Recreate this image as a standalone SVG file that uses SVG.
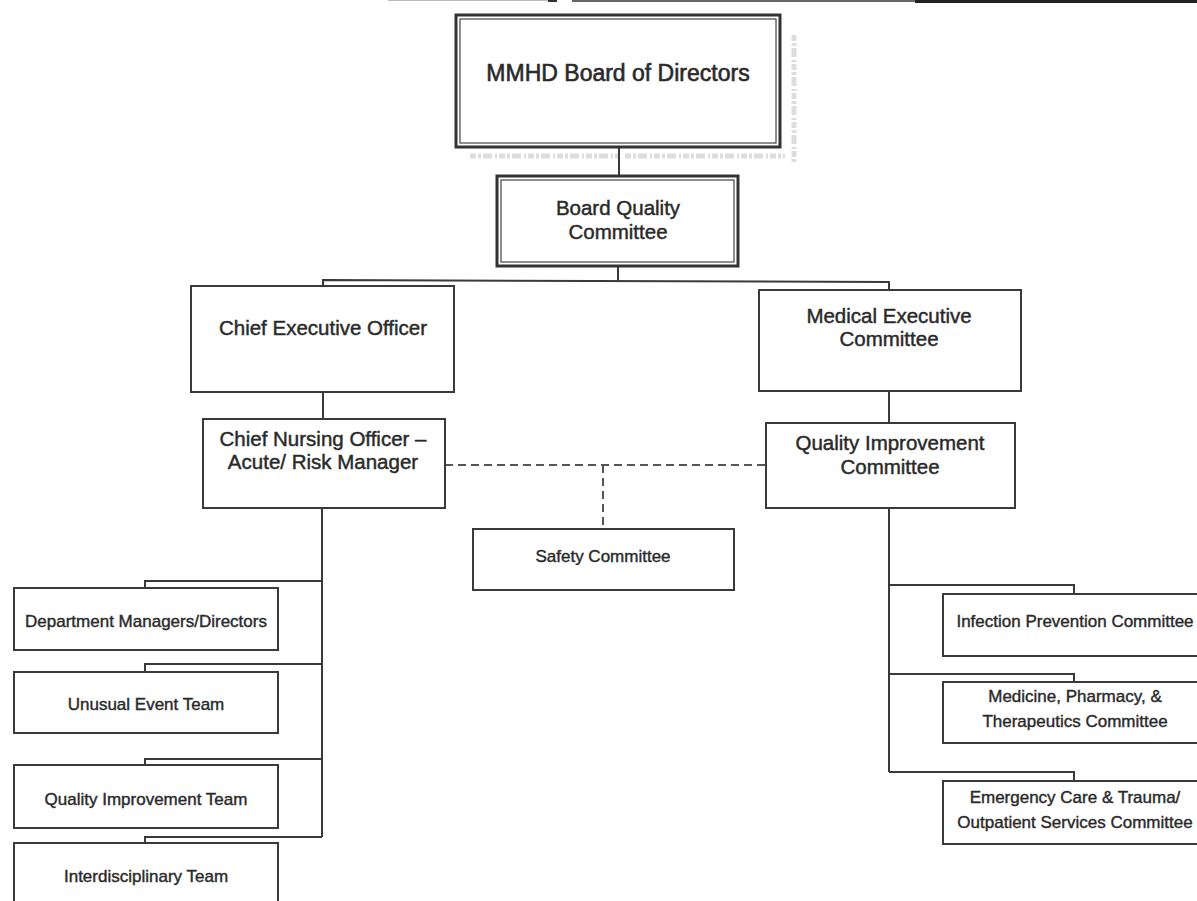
<svg xmlns="http://www.w3.org/2000/svg" width="1197" height="901" viewBox="0 0 1197 901">
<style>
  .box { fill: #ffffff; stroke: #3a3a3a; stroke-width: 2; }
  .outer { fill: #ffffff; stroke: #333333; stroke-width: 3; }
  .inner { fill: none; stroke: #444444; stroke-width: 1.2; }
  .ln { fill: none; stroke: #3a3a3a; stroke-width: 2; }
  .dash { fill: none; stroke: #555555; stroke-width: 2; stroke-dasharray: 8 5; }
  .noise { fill: none; stroke: #dddddd; stroke-width: 5; stroke-dasharray: 6 2 3 2 9 3 2 2; }
  text { font-family: "Liberation Sans", Arial, sans-serif; fill: #2a2a2a; stroke: #2a2a2a; stroke-width: 0.45; text-anchor: middle; }
  .big { font-size: 23px; stroke-width: 0.6; }
  .mid { font-size: 20.5px; }
  .small { font-size: 17px; stroke-width: 0.4; }
</style>
<rect width="1197" height="901" fill="#ffffff"/>
<g id="scan-edges">
  <line x1="388" y1="0.5" x2="548" y2="0.5" stroke="#bbbbbb" stroke-width="1"/>
  <line x1="548" y1="1" x2="557" y2="1" stroke="#333333" stroke-width="2"/>
  <line x1="572" y1="1" x2="915" y2="1" stroke="#333333" stroke-width="1.5"/>
  <line x1="915" y1="1.5" x2="1197" y2="1.5" stroke="#222222" stroke-width="3"/>
  <line class="noise" x1="470" y1="156" x2="618" y2="156"/>
  <line class="noise" x1="625" y1="156" x2="785" y2="156"/>
  <line class="noise" x1="794" y1="35" x2="794" y2="162"/>
</g>
<g id="connectors">
  <line class="ln" x1="619" y1="147" x2="619" y2="176"/>
  <line class="ln" x1="618" y1="266" x2="618" y2="281"/>
  <polyline class="ln" points="323,286 323,280 889,282 889,290"/>
  <line class="ln" x1="323" y1="392" x2="323" y2="419"/>
  <line class="ln" x1="889" y1="391" x2="889" y2="423"/>
  <line class="dash" x1="445" y1="465" x2="766" y2="465"/>
  <line class="dash" x1="603" y1="465" x2="603" y2="529"/>
  <line class="ln" x1="322" y1="508" x2="322" y2="837"/>
  <polyline class="ln" points="322,581 145,581 145,588"/>
  <polyline class="ln" points="322,664 145,664 145,672"/>
  <polyline class="ln" points="322,759 145,759 145,765"/>
  <polyline class="ln" points="322,837 145,837 145,843"/>
  <line class="ln" x1="889" y1="508" x2="889" y2="772"/>
  <polyline class="ln" points="889,585 1074,585 1074,594"/>
  <polyline class="ln" points="889,674 1074,674 1074,682"/>
  <polyline class="ln" points="889,772 1074,772 1074,781"/>
</g>
<g id="board">
  <rect class="outer" x="456" y="15" width="324" height="132"/>
  <rect class="inner" x="460" y="19" width="316" height="124"/>
  <text class="big" x="618" y="81">MMHD Board of Directors</text>
</g>
<g id="board-quality">
  <rect class="outer" x="497" y="176" width="241" height="90"/>
  <rect class="inner" x="501" y="180" width="233" height="82"/>
  <text class="mid" x="618" y="215">Board Quality</text>
  <text class="mid" x="618" y="239">Committee</text>
</g>
<g id="ceo">
  <rect class="box" x="191" y="286" width="263" height="106"/>
  <text class="mid" x="323" y="335">Chief Executive Officer</text>
</g>
<g id="mec">
  <rect class="box" x="759" y="290" width="262" height="101"/>
  <text class="mid" x="889" y="323">Medical Executive</text>
  <text class="mid" x="889" y="346">Committee</text>
</g>
<g id="cno">
  <rect class="box" x="203" y="419" width="242" height="89"/>
  <text class="mid" x="323" y="446">Chief Nursing Officer –</text>
  <text class="mid" x="323" y="469">Acute/ Risk Manager</text>
</g>
<g id="qic">
  <rect class="box" x="766" y="423" width="249" height="85"/>
  <text class="mid" x="890" y="450">Quality Improvement</text>
  <text class="mid" x="890" y="474">Committee</text>
</g>
<g id="safety">
  <rect class="box" x="473" y="529" width="261" height="61"/>
  <text class="small" x="603" y="562">Safety Committee</text>
</g>
<g id="dept-managers">
  <rect class="box" x="14" y="588" width="264" height="62"/>
  <text class="small" x="146" y="627">Department Managers/Directors</text>
</g>
<g id="unusual-event">
  <rect class="box" x="14" y="672" width="264" height="61"/>
  <text class="small" x="146" y="710">Unusual Event Team</text>
</g>
<g id="qi-team">
  <rect class="box" x="14" y="765" width="264" height="63"/>
  <text class="small" x="146" y="805">Quality Improvement Team</text>
</g>
<g id="interdisciplinary">
  <rect class="box" x="14" y="843" width="264" height="70"/>
  <text class="small" x="146" y="882">Interdisciplinary Team</text>
</g>
<g id="infection">
  <rect class="box" x="943" y="594" width="264" height="62"/>
  <text class="small" x="1075" y="627">Infection Prevention Committee</text>
</g>
<g id="medicine">
  <rect class="box" x="943" y="682" width="264" height="61"/>
  <text class="small" x="1075" y="702">Medicine, Pharmacy, &amp;</text>
  <text class="small" x="1075" y="727">Therapeutics Committee</text>
</g>
<g id="emergency">
  <rect class="box" x="943" y="781" width="264" height="63"/>
  <text class="small" x="1075" y="803">Emergency Care &amp; Trauma/</text>
  <text class="small" x="1075" y="828">Outpatient Services Committee</text>
</g>
</svg>
